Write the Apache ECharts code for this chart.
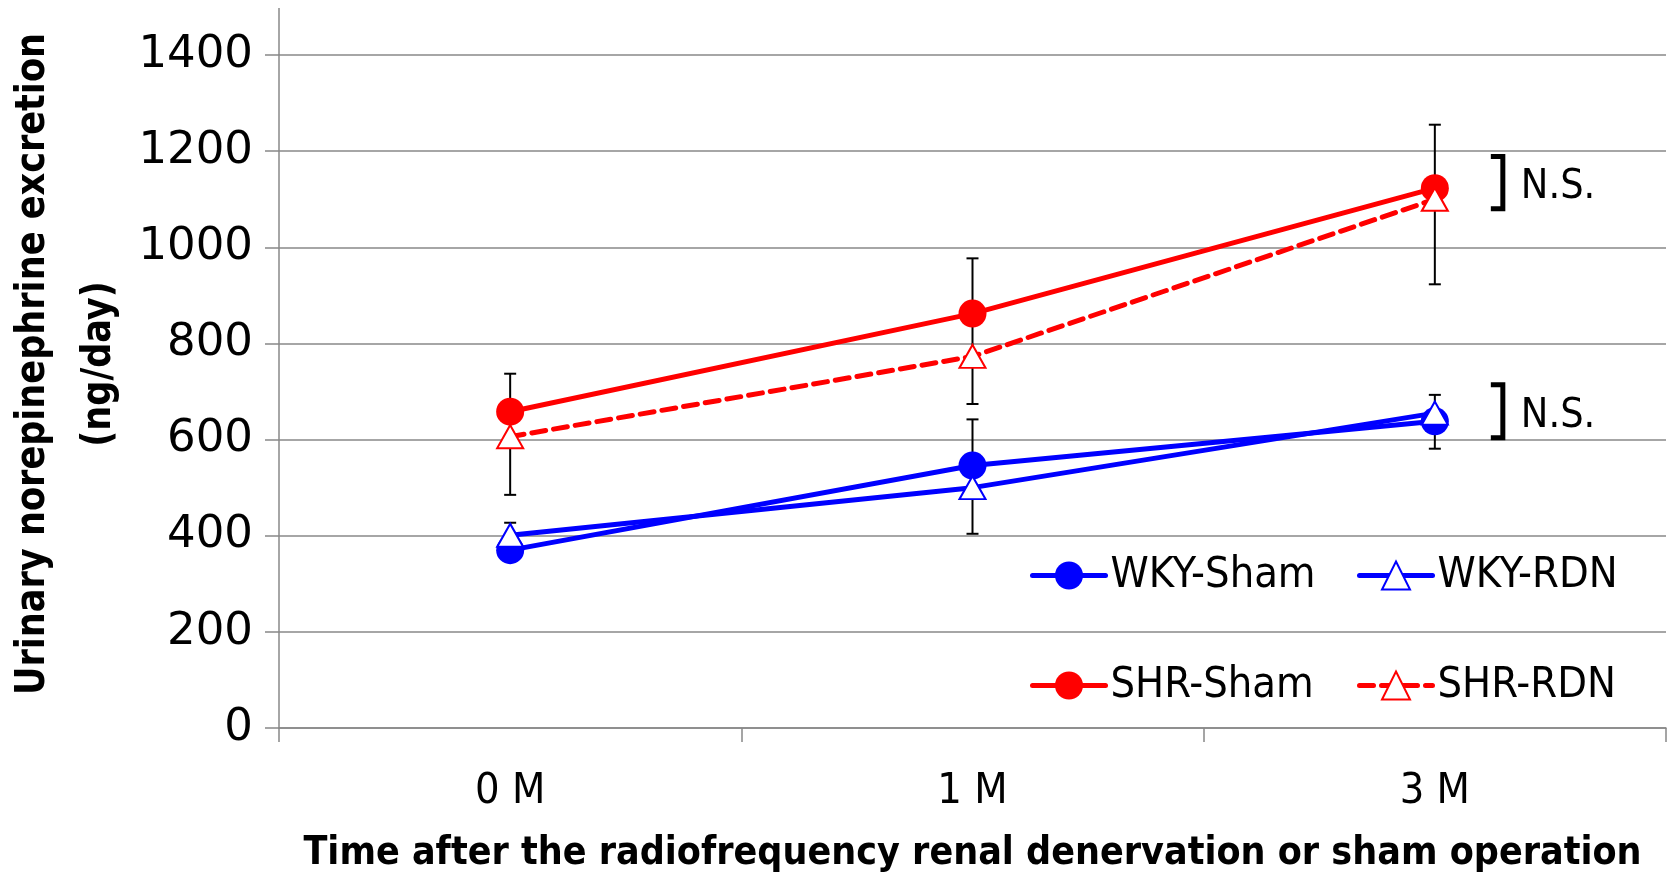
<!DOCTYPE html>
<html>
<head>
<meta charset="utf-8">
<script src="https://cdn.jsdelivr.net/npm/echarts@6/dist/echarts.min.js"></script>
<style>
html,body{margin:0;padding:0;background:#fff;}
#c{width:1671px;height:879px;}
</style>
</head>
<body>
<div id="c"></div>
<script>
const categories = ['0 M', '1 M', '3 M'];
const yTicks = [0, 200, 400, 600, 800, 1000, 1200, 1400];
const wkySham = [370, 546, 638];
const wkyRdn = [401, 500, 655];
const shrSham = [658, 862, 1123];
const shrRdn = [606, 773, 1100];
const shrErrLow = [485, 674, 923];
const shrErrHigh = [737, 977, 1255];
const wkyErrLow = [350, 404, 581];
const wkyErrHigh = [427, 642, 693];
const nsRanges = [[1080, 1189], [604, 714]];
const nsCategoryAnchor = 2;
const yTitleLines = ['Urinary norepinephrine excretion', '(ng/day)'];
const xTitle = 'Time after the radiofrequency renal denervation or sham operation';

const RED = '#FF0000', BLUE = '#0000FF', GRID = '#888888';
const COND = "'DejaVu Sans Condensed', 'Liberation Sans Narrow', 'Liberation Sans', sans-serif";

const errData = [];
for (let i = 0; i < categories.length; i++) {
  errData.push([i, shrErrLow[i], shrErrHigh[i]]);
  errData.push([i, wkyErrLow[i], wkyErrHigh[i]]);
}

function errRender(params, api) {
  const x = api.value(0);
  const lo = api.coord([x, api.value(1)]);
  const hi = api.coord([x, api.value(2)]);
  const w = 6;
  const st = { stroke: '#000', lineWidth: 2 };
  return {
    type: 'group',
    children: [
      { type: 'line', shape: { x1: lo[0], y1: lo[1], x2: hi[0], y2: hi[1] }, style: st },
      { type: 'line', shape: { x1: lo[0] - w, y1: lo[1], x2: lo[0] + w, y2: lo[1] }, style: st },
      { type: 'line', shape: { x1: hi[0] - w, y1: hi[1], x2: hi[0] + w, y2: hi[1] }, style: st }
    ]
  };
}

function lineSeries(name, data, color, filled, dashed) {
  return {
    name, type: 'line', data,
    symbol: filled ? 'circle' : 'triangle',
    symbolSize: filled ? 28 : [26, 23],
    itemStyle: { color: filled ? color : '#fff', borderColor: color, borderWidth: filled ? 0 : 2 },
    lineStyle: { color, width: 5, type: dashed ? [14, 8] : 'solid', cap: 'round' },
    z: 3,
    animation: false
  };
}

function measure(text, font) {
  const ctx = document.createElement('canvas').getContext('2d');
  ctx.font = font;
  return ctx.measureText(text).width;
}

const legendText = { fontFamily: COND, fontSize: 43, color: '#000' };
function legendAt(name, left, top) {
  return {
    data: [name], left, top, orient: 'horizontal', padding: 0,
    itemWidth: 73, itemHeight: 35, itemGap: 5,
    lineStyle: { width: 5 },
    textStyle: legendText
  };
}

const chart = echarts.init(document.getElementById('c'), null, { renderer: 'canvas' });
const option = {
  backgroundColor: '#fff',
  animation: false,
  grid: { left: 279, right: 5, top: 55, bottom: 151, containLabel: false, outerBoundsMode: 'none' },
  xAxis: {
    type: 'category', data: categories, boundaryGap: true,
    axisLine: { lineStyle: { color: GRID, width: 1.5 } },
    axisTick: { show: true, length: 14, lineStyle: { color: GRID, width: 1.5 } },
    axisLabel: { fontFamily: COND, fontSize: 43, color: '#000', margin: 42 },
    name: xTitle,
    nameLocation: 'middle', nameGap: 106,
    nameTextStyle: { fontFamily: COND, fontWeight: 'bold', fontSize: 39, color: '#000' }
  },
  yAxis: {
    type: 'value', min: yTicks[0], max: yTicks[yTicks.length - 1], interval: yTicks[1] - yTicks[0],
    axisLine: { show: true, lineStyle: { color: GRID, width: 1.5 } },
    axisTick: { show: true, length: 14, lineStyle: { color: GRID, width: 1.5 } },
    splitLine: { show: true, lineStyle: { color: GRID, width: 1.5 } },
    axisLabel: { fontFamily: "'DejaVu Sans', sans-serif", fontSize: 45, color: '#000', margin: 26,
      formatter: v => String(v) }
  },
  legend: [
    legendAt('WKY-Sham', 1030, 554),
    legendAt('WKY-RDN', 1357, 554),
    legendAt('SHR-Sham', 1030, 664),
    legendAt('SHR-RDN', 1357, 664)
  ],
  series: [
    { type: 'custom', name: 'err', data: errData, renderItem: errRender, z: 1, silent: true, animation: false },
    lineSeries('WKY-Sham', wkySham, BLUE, true, false),
    lineSeries('WKY-RDN', wkyRdn, BLUE, false, false),
    lineSeries('SHR-Sham', shrSham, RED, true, false),
    lineSeries('SHR-RDN', shrRdn, RED, false, true)
  ]
};
chart.setOption(option);

// annotations: axis line extension, y-axis title, N.S. brackets
const graphics = [];
const top0 = chart.convertToPixel({ yAxisIndex: 0 }, yTicks[yTicks.length - 1]);
const c0 = chart.convertToPixel({ xAxisIndex: 0 }, 0);
const c1 = chart.convertToPixel({ xAxisIndex: 0 }, 1);
const x0 = c0 - (c1 - c0) / 2;
graphics.push({ type: 'line', shape: { x1: x0, y1: 8, x2: x0, y2: top0 }, style: { stroke: GRID, lineWidth: 1.5 }, z: 0 });

const yTitleFont = 'bold 41px ' + COND;
const yTitleScale = 662 / measure(yTitleLines[0], yTitleFont);
graphics.push({
  type: 'text', x: 66, y: 364, rotation: Math.PI / 2, scaleX: yTitleScale,
  style: {
    text: yTitleLines.join('\n'), fontFamily: COND, fontWeight: 'bold',
    fontSize: 41, lineHeight: 66, fill: '#000', align: 'center', verticalAlign: 'middle'
  }
});
const catPx = chart.convertToPixel({ xAxisIndex: 0 }, nsCategoryAnchor);
nsRanges.forEach(r => {
  const yTop = chart.convertToPixel({ yAxisIndex: 0 }, r[1]);
  const yBot = chart.convertToPixel({ yAxisIndex: 0 }, r[0]);
  const bx = catPx + 68;
  graphics.push({
    type: 'polyline',
    shape: { points: [[bx - 12, yTop], [bx, yTop], [bx, yBot], [bx - 12, yBot]] },
    style: { stroke: '#000', lineWidth: 5, fill: null }
  });
  graphics.push({
    type: 'text', x: bx + 18, y: (yTop + yBot) / 2 + 5,
    style: { text: 'N.S.', fontFamily: COND, fontSize: 41, fill: '#000', verticalAlign: 'middle' }
  });
});
chart.setOption({ graphic: graphics });
</script>
</body>
</html>
